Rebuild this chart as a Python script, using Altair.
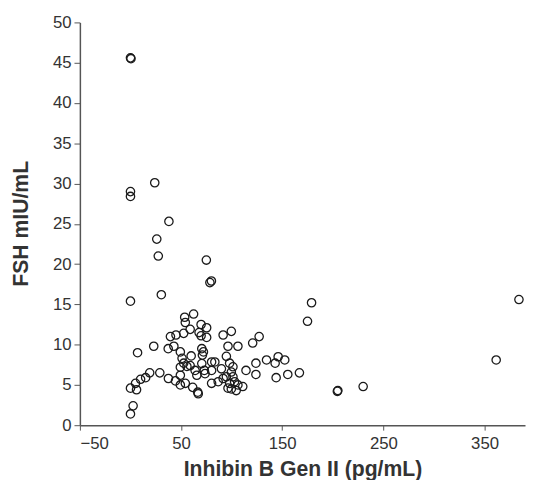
import altair as alt
import pandas as pd

inhibin_b = [
    0, 0.5, 0, 0, 0, 0, 0, 2.6, 5, 6, 7, 10, 15, 19, 23, 24, 26, 27.5, 30.5, 29,
    38, 75, 78.5, 80, 134.5, 143, 146, 152.5, 144, 155.5, 167, 175, 179, 205,
    204.5, 230, 361.5, 384,
    62.4, 53.6, 54.2, 69.8, 75.3, 59, 52.6, 39.5, 45, 67.8, 69.8, 75.3, 91.6,
    99.7, 120.8, 127.2, 37.3, 42.9, 49.3, 70.5, 72.1, 71.1, 60, 96.4, 106.2,
    94.8, 51, 52.6, 55.8, 49.3, 59, 63.9, 70.5, 73, 80.2, 83.4, 80.2, 89.9, 98,
    101.3, 99.7, 101.3, 102.9, 94.8, 114.2, 124, 124, 37.5, 44.5, 49.3, 54.2,
    49.3, 65.6, 73.7, 80.2, 86.7, 91.6, 98, 106.2, 99.7, 104.5, 111, 61.5, 66.5,
    67, 96.4,
]
fsh = [
    45.6, 45.5, 29.0, 28.4, 15.4, 4.6, 1.4, 2.4, 5.2, 4.4, 9.0, 5.7, 5.9, 6.5, 9.8,
    30.1, 23.1, 21.0, 16.2, 6.5, 25.3, 20.5, 17.7, 17.9, 8.1, 7.7, 8.5, 8.1, 5.9,
    6.3, 6.5, 12.9, 15.2, 4.3, 4.2, 4.8, 8.1, 15.6,
    13.8, 13.4, 12.75, 12.5, 12.1, 11.9, 11.4, 11.0, 11.2, 11.5, 11.1, 10.9, 11.2,
    11.65, 10.2, 11.0, 9.5, 9.8, 9.1, 9.5, 9.1, 8.7, 8.6, 9.8, 9.8, 8.55, 8.3,
    7.7, 7.3, 7.2, 7.4, 6.8, 7.65, 6.8, 7.85, 7.85, 6.8, 7.0, 7.7, 7.25, 6.6, 6.0,
    5.4, 6.0, 6.8, 7.7, 6.3, 5.8, 5.5, 6.2, 5.2, 5.0, 6.2, 6.4, 5.2, 5.4, 5.8,
    5.2, 5.0, 4.5, 4.3, 4.8, 4.7, 4.1, 3.9, 4.6,
]
x_ticks = [-50, 50, 150, 250, 350]
y_ticks = [0, 5, 10, 15, 20, 25, 30, 35, 40, 45, 50]

df = pd.DataFrame({"inhibin": inhibin_b, "fsh": fsh})

FONT = "Liberation Sans"
chart = (
    alt.Chart(df)
    .mark_point(shape="circle", filled=False, color="#1a1a1a", size=72, strokeWidth=1.3, opacity=1)
    .encode(
        x=alt.X(
            "inhibin:Q",
            scale=alt.Scale(domain=[-50, 390], nice=False, zero=False),
            axis=alt.Axis(
                values=x_ticks,
                title="Inhibin B Gen II (pg/mL)",
                grid=False,
                labelFontSize=17,
                labelPadding=6,
                tickSize=5,
                titleFontSize=21.5,
                titlePadding=7,
            ),
        ),
        y=alt.Y(
            "fsh:Q",
            scale=alt.Scale(domain=[0, 50], nice=False),
            axis=alt.Axis(
                values=y_ticks,
                title="FSH mIU/mL",
                grid=False,
                labelFontSize=17,
                labelPadding=3,
                tickSize=6,
                titleFontSize=21.5,
                titleX=-59,
                titleY=204,
                titleBaseline="middle",
            ),
        ),
    )
    .properties(
        width=452,
        height=409,
        autosize=alt.AutoSizeParams(type="none"),
        padding={"left": 73, "top": 11, "right": 1, "bottom": 52},
    )
    .configure_view(stroke=None)
    .configure_axis(
        labelFont=FONT,
        titleFont=FONT,
        labelColor="#333333",
        titleColor="#333333",
        titleFontWeight="bold",
        domainColor="#555555",
        tickColor="#555555",
        domainWidth=1.5,
        tickWidth=1,
    )
)

chart.save("out.html", embed_options={"renderer": "svg", "actions": False})
